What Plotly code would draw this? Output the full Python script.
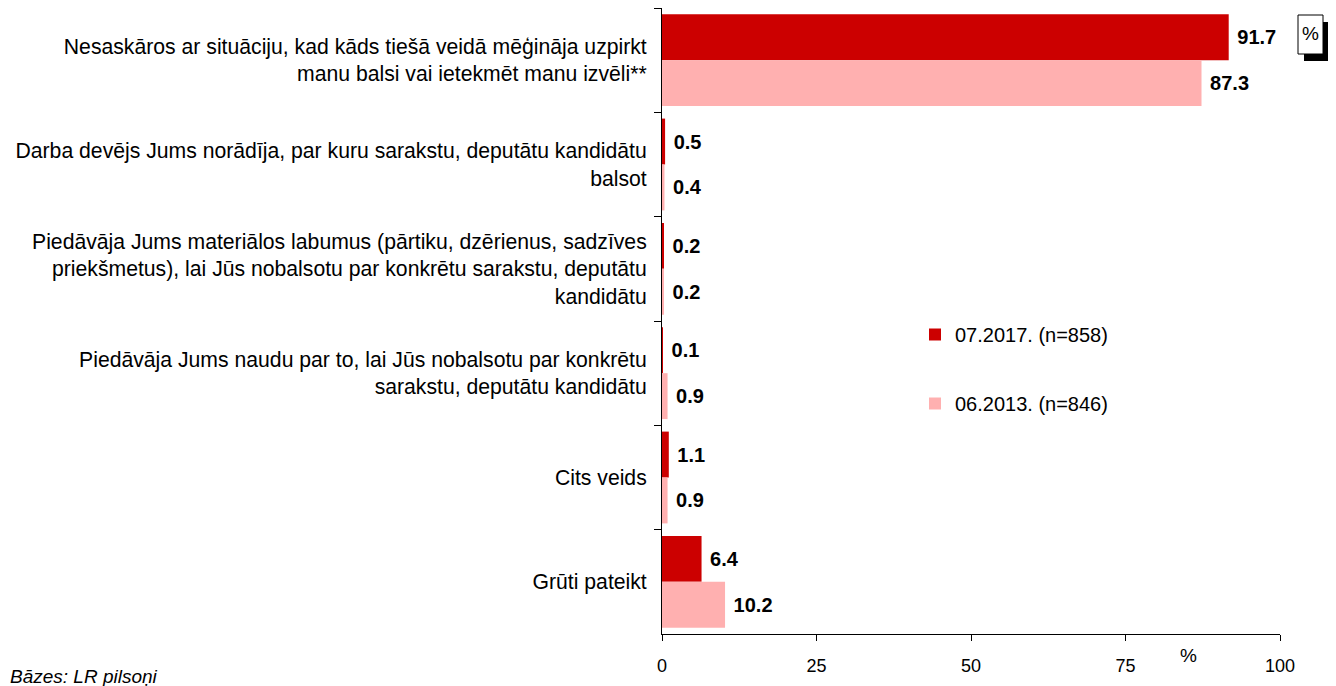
import plotly.graph_objects as go

categories = [
    "Nesaskāros ar situāciju, kad kāds tiešā veidā mēģināja uzpirkt<br>manu balsi vai ietekmēt manu izvēli**",
    "Darba devējs Jums norādīja, par kuru sarakstu, deputātu kandidātu<br>balsot",
    "Piedāvāja Jums materiālos labumus (pārtiku, dzērienus, sadzīves<br>priekšmetus), lai Jūs nobalsotu par konkrētu sarakstu, deputātu<br>kandidātu",
    "Piedāvāja Jums naudu par to, lai Jūs nobalsotu par konkrētu<br>sarakstu, deputātu kandidātu",
    "Cits veids",
    "Grūti pateikt",
]
values_2017 = [91.7, 0.5, 0.2, 0.1, 1.1, 6.4]
values_2013 = [87.3, 0.4, 0.2, 0.9, 0.9, 10.2]
series_names = ["07.2017. (n=858)", "06.2013. (n=846)"]
colors = ["#CC0000", "#FFB0B0"]
x_ticks = [0, 25, 50, 75, 100]

# page has an 8px body margin; figure is sized to fit the window
OFF = 8
W, H = 1336 - OFF, 686 - OFF
PL, PR, PT, PB = 662, 1280, 8, 634          # plot area in page pixels
L, T = PL - OFF, PT - OFF
R, B = W - (PR - OFF), H - (PB - OFF)
pw, ph = PR - PL, PB - PT

def px(x):
    return (x - PL) / pw

def py(y):
    return (PB - y) / ph

FONT = "Liberation Sans, Arial, sans-serif"
NB = "\u00a0"

fig = go.Figure()
for i, (name, vals, col) in enumerate(zip(series_names, [values_2017, values_2013], colors)):
    fig.add_trace(go.Bar(
        y=categories, x=vals, orientation="h", name=name,
        marker=dict(color=col, line=dict(width=0)),
        text=[NB + f"{v:.1f}" for v in vals], textposition="outside",
        textfont=dict(family=FONT, size=20, color="black", weight="bold"),
        cliponaxis=False, legendgroup=f"g{i}",
    ))

fig.update_layout(
    width=W, height=H,
    margin=dict(l=L, r=R, t=T, b=B, autoexpand=False),
    paper_bgcolor="white", plot_bgcolor="white",
    barmode="group", bargap=0.12, bargroupgap=0,
    font=dict(family=FONT, size=20, color="black"),
    showlegend=True,
    legend=dict(x=px(915), y=py(315), xanchor="left", yanchor="top",
                tracegroupgap=40, font=dict(size=20), itemwidth=30,
                bgcolor="rgba(0,0,0,0)"),
)
fig.update_xaxes(range=[0, 100], tickvals=x_ticks, ticks="outside", ticklen=6,
                 tickcolor="black", showline=True, linecolor="black", linewidth=1,
                 showgrid=False, zeroline=False, tickfont=dict(size=18),
                 ticklabelstandoff=9, fixedrange=True)
fig.update_yaxes(autorange="reversed", ticks="outside", tickson="boundaries",
                 ticklen=7, tickcolor="black", showline=True, linecolor="black",
                 linewidth=1, showgrid=False, tickfont=dict(size=21.2),
                 ticklabelstandoff=10, fixedrange=True)

# % box with shadow
fig.add_shape(type="rect", xref="paper", yref="paper",
              x0=px(1304), x1=px(1330), y0=py(61), y1=py(22),
              fillcolor="black", line=dict(width=0))
fig.add_shape(type="rect", xref="paper", yref="paper",
              x0=px(1298), x1=px(1323), y0=py(54), y1=py(15),
              fillcolor="white", line=dict(color="black", width=1))
fig.add_annotation(xref="paper", yref="paper", x=px(1310.5), y=py(34),
                   text="%", showarrow=False, font=dict(size=19),
                   xanchor="center", yanchor="middle")
fig.add_annotation(xref="paper", yref="paper", x=px(1188), y=py(655),
                   text="%", showarrow=False, font=dict(size=19),
                   xanchor="center", yanchor="middle")
fig.add_annotation(xref="paper", yref="paper", x=px(8), y=py(676),
                   text="<i>Bāzes: LR pilsoņi</i>", showarrow=False,
                   font=dict(size=19), xanchor="left", yanchor="middle")

fig.write_html("out.html")
